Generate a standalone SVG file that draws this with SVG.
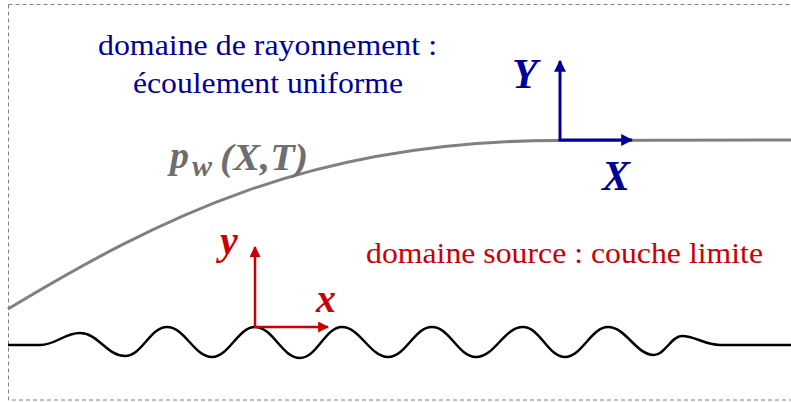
<svg xmlns="http://www.w3.org/2000/svg" width="791" height="402" viewBox="0 0 791 402">
<style>
.serif{font-family:"Liberation Serif","Times New Roman",serif}
.bi{font-weight:bold;font-style:italic}
.blue{fill:#000099}
.red{fill:#CC0000}
.grey{fill:#6E6E6E}
.ablue{stroke:#000099;stroke-width:3;fill:none}
.ared{stroke:#CC0000;stroke-width:2.5;fill:none}
</style>
<defs>
<marker id="mb" viewBox="0 0 10 10" refX="9" refY="5" markerWidth="4" markerHeight="4" markerUnits="strokeWidth" orient="auto"><path d="M0,0 L10,5 L0,10 z" fill="#000099"/></marker>
<marker id="mr" viewBox="0 0 10 10" refX="9" refY="5" markerWidth="4.4" markerHeight="4.4" markerUnits="strokeWidth" orient="auto"><path d="M0,0 L10,5 L0,10 z" fill="#CC0000"/></marker>
</defs>
<rect x="0" y="0" width="791" height="402" fill="#fff"/>
<rect x="8.5" y="4.5" width="800" height="395.5" fill="none" stroke="#808080" stroke-width="1" stroke-dasharray="4,3"/>
<g id="curves">
<path id="pw-curve" d="M8,309 C158,219 310,140 560,140.5 L791,140" fill="none" stroke="#808080" stroke-width="3"/>
<path id="wall" d="M8,345 L40,345 C56,345 64,333 80,333 C98,333 107,356 125,356 C142,356 150,327 167,327 C185,327 194,357 212,357 C229,357 238,327 255,327 C273,327 282,358 300,358 C317,358 325,327 342,327 C360,327 370,357 388,357 C406,357 414,327 432,327 C450,327 458,357 476,357 C495,357 504,327 523,327 C540,327 548,357 565,357 C582,357 591,327 608,327 C626,327 636,355 654,355 C665,355 671,336 682,336 C695,336 705,345 720,345 L791,345" fill="none" stroke="#000" stroke-width="2.5"/>
</g>
<g id="axes-blue">
<line x1="560" y1="141" x2="560" y2="61" class="ablue" marker-end="url(#mb)"/>
<line x1="558.5" y1="140" x2="632" y2="140" class="ablue" marker-end="url(#mb)"/>
<text x="512" y="88" class="serif bi blue" font-size="42">Y</text>
<text x="602" y="190" class="serif bi blue" font-size="42">X</text>
</g>
<g id="axes-red">
<line x1="255" y1="328" x2="255" y2="247" class="ared" marker-end="url(#mr)"/>
<line x1="254" y1="327" x2="328" y2="327" class="ared" marker-end="url(#mr)"/>
<text x="220" y="254" class="serif bi red" font-size="40">y</text>
<text x="316" y="312" class="serif bi red" font-size="40">x</text>
</g>
<g id="label-rayonnement">
<text x="98" y="55" class="serif blue" font-size="29" textLength="339" lengthAdjust="spacingAndGlyphs">domaine de rayonnement :</text>
<text x="133" y="93" class="serif blue" font-size="29" textLength="270" lengthAdjust="spacingAndGlyphs">écoulement uniforme</text>
</g>
<g id="label-source">
<text x="366" y="263" class="serif red" font-size="29" textLength="397" lengthAdjust="spacingAndGlyphs">domaine source : couche limite</text>
</g>
<g id="label-pw">
<text x="170" y="168" class="serif bi grey" font-size="38">p</text>
<text x="192" y="176" class="serif bi grey" font-size="30">w</text>
<text x="220" y="170" class="serif bi grey" font-size="37" textLength="88" lengthAdjust="spacingAndGlyphs">(X,T)</text>
</g>
</svg>
